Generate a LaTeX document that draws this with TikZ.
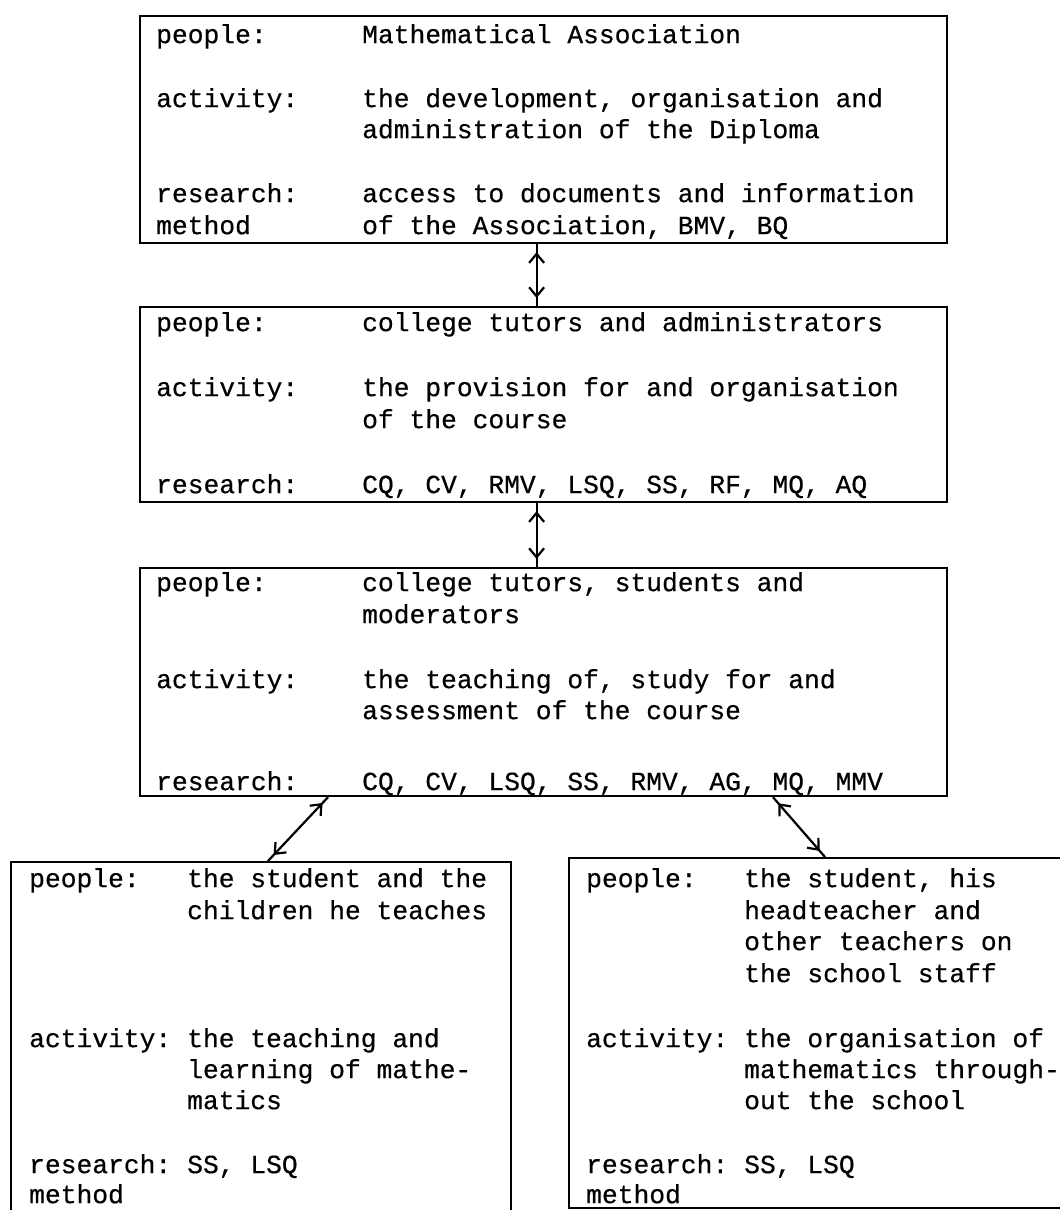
\documentclass[tikz,border=0pt]{standalone}
\usepackage{fontspec}
\newfontfamily\tw[FakeBold=0.5]{Liberation Mono}
\usetikzlibrary{arrows.meta,decorations.markings}
\tikzset{
  box/.style={draw, line width=2.2pt, rectangle, inner sep=0pt, anchor=north west},
  txt/.style={anchor=mid west, inner sep=0pt, yshift=-5pt, font=\tw\fontsize{26.3}{31.6}\selectfont},
  link/.style={line width=2.2pt, postaction={decorate},
    decoration={markings,
      mark=at position 8pt with {\arrowreversed{Straight Barb[length=9pt,width=15pt,line width=2.2pt]}},
      mark=at position -8pt with {\arrow{Straight Barb[length=9pt,width=15pt,line width=2.2pt]}}}}
}
\begin{document}
\begin{tikzpicture}[x=1pt,y=-1pt]
\useasboundingbox (0,0) rectangle (1060,1210);
\clip (0,0) rectangle (1060,1210);
\fill[white] (0,0) rectangle (1060,1210);
% boxes
\node[box, minimum width=807pt, minimum height=227pt] (b1) at (139,15) {};
\node[box, minimum width=807pt, minimum height=195pt] (b2) at (139,306) {};
\node[box, minimum width=807pt, minimum height=228pt] (b3) at (139,567) {};
\node[box, minimum width=500pt, minimum height=400pt] (bl) at (10,861) {};
\node[box, minimum width=520pt, minimum height=350pt] (br) at (568,857) {};
% box 1
\node[txt] (p1) at (156,36) {people:};
\node[txt] (p1v) at (362,36) {Mathematical Association};
\node[txt] (a1) at (156,100) {activity:};
\node[txt] (a1v) at (362,100) {the development, organisation and};
\node[txt] (a1w) at (362,131) {administration of the Diploma};
\node[txt] (r1) at (156,195) {research:};
\node[txt] (r1v) at (362,195) {access to documents and information};
\node[txt] (m1) at (156,227) {method};
\node[txt] (m1v) at (362,227) {of the Association, BMV, BQ};
% box 2
\node[txt] (p2) at (156,324) {people:};
\node[txt] (p2v) at (362,324) {college tutors and administrators};
\node[txt] (a2) at (156,389) {activity:};
\node[txt] (a2v) at (362,389) {the provision for and organisation};
\node[txt] (a2w) at (362,421) {of the course};
\node[txt] (r2) at (156,486) {research:};
\node[txt] (r2v) at (362,486) {CQ, CV, RMV, LSQ, SS, RF, MQ, AQ};
% box 3
\node[txt] (p3) at (156,584) {people:};
\node[txt] (p3v) at (362,584) {college tutors, students and};
\node[txt] (p3w) at (362,616) {moderators};
\node[txt] (a3) at (156,681) {activity:};
\node[txt] (a3v) at (362,681) {the teaching of, study for and};
\node[txt] (a3w) at (362,712) {assessment of the course};
\node[txt] (r3) at (156,783) {research:};
\node[txt] (r3v) at (362,783) {CQ, CV, LSQ, SS, RMV, AG, MQ, MMV};
% bottom left
\node[txt] (p4) at (29,880) {people:};
\node[txt] (p4v) at (187,880) {the student and the};
\node[txt] (p4w) at (187,912) {children he teaches};
\node[txt] (a4) at (29,1040) {activity:};
\node[txt] (a4v) at (187,1040) {the teaching and};
\node[txt] (a4w) at (187,1071) {learning of mathe-};
\node[txt] (a4x) at (187,1102) {matics};
\node[txt] (r4) at (29,1166) {research:};
\node[txt] (r4v) at (187,1166) {SS, LSQ};
\node[txt] (m4) at (29,1196) {method};
% bottom right
\node[txt] (p5) at (586,880) {people:};
\node[txt] (p5v) at (744,880) {the student, his};
\node[txt] (p5w) at (744,912) {headteacher and};
\node[txt] (p5x) at (744,943) {other teachers on};
\node[txt] (p5y) at (744,975) {the school staff};
\node[txt] (a5) at (586,1040) {activity:};
\node[txt] (a5v) at (744,1040) {the organisation of};
\node[txt] (a5w) at (744,1071) {mathematics through-};
\node[txt] (a5x) at (744,1102) {out the school};
\node[txt] (r5) at (586,1166) {research:};
\node[txt] (r5v) at (744,1166) {SS, LSQ};
\node[txt] (m5) at (586,1196) {method};
% connectors
\draw[link] ([xshift=-7pt]b1.south) -- ([xshift=-7pt]b2.north);
\draw[link] ([xshift=-7pt]b2.south) -- ([xshift=-7pt]b3.north);
\draw[link] ([xshift=189pt]b3.south west) -- ([xshift=258pt]bl.north west);
\draw[link] ([xshift=634pt]b3.south west) -- ([xshift=257pt]br.north west);
\end{tikzpicture}
\end{document}
